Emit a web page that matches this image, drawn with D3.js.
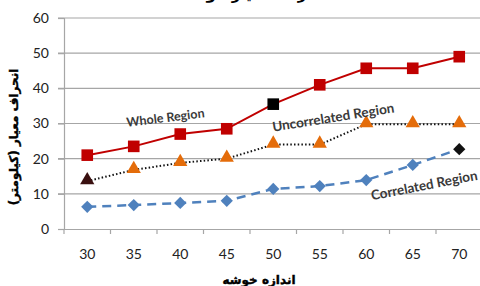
<!DOCTYPE html>
<html><head><meta charset="utf-8">
<script src="https://cdn.jsdelivr.net/npm/d3@7"></script>
<style>body{margin:0;background:#fff;overflow:hidden}svg{display:block}</style>
</head><body>
<svg id="c" width="480" height="286"></svg>
<script>
const categories = [30, 35, 40, 45, 50, 55, 60, 65, 70];
const wholeRegion = [21, 23.5, 27, 28.5, 35.5, 41, 45.7, 45.7, 49];
const uncorrelatedRegion = [13.6, 16.8, 18.8, 20, 24, 24, 29.8, 29.8, 29.8];
const correlatedRegion = [6.3, 6.8, 7.4, 8, 11.4, 12.2, 13.9, 18.2, 22.7];
const yTicks = [0, 10, 20, 30, 40, 50, 60];
const titleText = "انحراف معیار خوشه ها";
const xTitle = "اندازه خوشه";
const yTitle = "انحراف معیار (کیلومتر)";

(function () {
const svg = d3.select("#c");
const pLeft = 64, pRight = 482.5, pTop = 18, pBottom = 229;
const x = d3.scaleBand().domain(categories).range([pLeft, pRight]).padding(0);
const y = d3.scaleLinear().domain([0, 60]).range([pBottom, pTop]);
const cx = d => x(d) + x.bandwidth() / 2;

// title (cropped at the top edge as in the reference)
svg.append("text").attr("x", 245).attr("y", -1).attr("text-anchor", "middle")
  .attr("font-family", "DejaVu Sans").attr("font-weight", "bold").attr("font-size", 15)
  .attr("fill", "#000").text(titleText);

// gridlines
svg.append("g").selectAll("line").data(yTicks.filter(d => d > 0)).join("line")
  .attr("x1", pLeft - 6).attr("x2", pRight).attr("y1", d => y(d)).attr("y2", d => y(d))
  .attr("stroke", "#a6a6a6").attr("stroke-width", 1.2);

// y axis
const ya = svg.append("g").attr("transform", `translate(${pLeft},0)`)
  .call(d3.axisLeft(y).tickValues(yTicks).tickSize(6).tickPadding(9));
ya.select(".domain").attr("stroke", "#a6a6a6").attr("stroke-width", 1.2);
ya.selectAll(".tick line").attr("stroke", "#a6a6a6").attr("stroke-width", 1.2);
ya.selectAll("text").attr("font-family", "Lato").attr("font-size", 14).attr("fill", "#222");

// x axis
const xa = svg.append("g").attr("transform", `translate(0,${pBottom})`)
  .call(d3.axisBottom(x).tickSize(0).tickPadding(20));
xa.select(".domain").attr("stroke", "#a6a6a6").attr("stroke-width", 1.2);
xa.selectAll("text").attr("font-family", "Lato").attr("font-size", 14).attr("fill", "#222");
svg.append("g").selectAll("line").data(categories).join("line")
  .attr("x1", d => x(d)).attr("x2", d => x(d)).attr("y1", pBottom).attr("y2", pBottom + 5)
  .attr("stroke", "#a6a6a6").attr("stroke-width", 1.2);

// axis titles
svg.append("text").attr("x", 259).attr("y", 284).attr("text-anchor", "middle")
  .attr("font-family", "DejaVu Sans").attr("font-weight", "bold").attr("font-size", 12)
  .attr("fill", "#000").attr("stroke", "#000").attr("stroke-width", 0.4).text(xTitle);
svg.append("text").attr("transform", "translate(18,137) rotate(-90)").attr("text-anchor", "middle")
  .attr("font-family", "DejaVu Sans").attr("font-weight", "bold").attr("font-size", 12)
  .attr("fill", "#000").attr("stroke", "#000").attr("stroke-width", 0.4).text(yTitle);

const line = d3.line().x((d, i) => cx(categories[i])).y(d => y(d));

svg.append("path").datum(correlatedRegion).attr("d", line).attr("fill", "none")
  .attr("stroke", "#4f81bd").attr("stroke-width", 2.5).attr("stroke-dasharray", "9,6");
svg.append("path").datum(uncorrelatedRegion).attr("d", line).attr("fill", "none")
  .attr("stroke", "#111").attr("stroke-width", 2).attr("stroke-dasharray", "1.5,2.2");
svg.append("path").datum(wholeRegion).attr("d", line).attr("fill", "none")
  .attr("stroke", "#c00000").attr("stroke-width", 2);

const sym = (type, size) => d3.symbol().type(type).size(size);
svg.append("g").selectAll("path").data(correlatedRegion).join("path")
  .attr("transform", (d, i) => `translate(${cx(categories[i])},${y(d)}) rotate(45)`)
  .attr("d", sym(d3.symbolSquare, 75)())
  .attr("fill", (d, i) => i === categories.length - 1 ? "#111" : "#4f81bd");
svg.append("g").selectAll("path").data(uncorrelatedRegion).join("path")
  .attr("transform", (d, i) => `translate(${cx(categories[i])},${y(d) - 1})`)
  .attr("d", sym(d3.symbolTriangle, 88)())
  .attr("fill", (d, i) => i === 0 ? "#3a1010" : "#e46c0a");
svg.append("g").selectAll("path").data(wholeRegion).join("path")
  .attr("transform", (d, i) => `translate(${cx(categories[i])},${y(d)})`)
  .attr("d", sym(d3.symbolSquare, 135)())
  .attr("fill", (d, i) => i === 4 ? "#000" : "#c00000");

const lab = (t, px, py, r, fs) => svg.append("text")
  .attr("transform", `translate(${px},${py}) rotate(${r})`).attr("text-anchor", "middle")
  .attr("font-family", "Lato").attr("font-weight", "bold").attr("font-size", fs)
  .attr("fill", "#3a3a3a").text(t);
lab("Whole Region", 166, 122, -7, 12.5);
lab("Uncorrelated Region", 334, 122, -9, 13.5);
lab("Correlated Region", 425, 190, -11, 13.5);
})();
</script>
</body></html>
